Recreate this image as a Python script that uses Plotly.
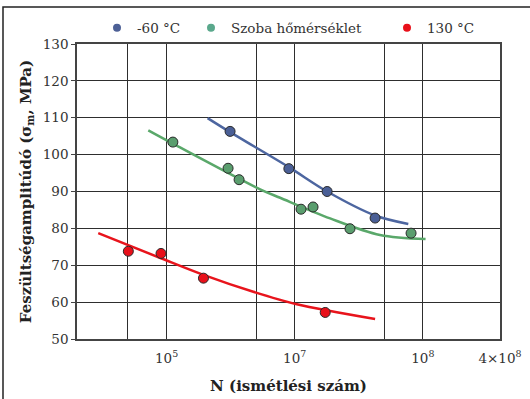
import plotly.graph_objects as go

# ---- data ----
blue_N = [3.13e6, 9.0e6, 1.79e7, 4.24e7]
blue_S = [106.3, 96.2, 90.0, 82.8]
blue_fit_N = [2.09e6, 3.13e6, 9.0e6, 1.79e7, 4.24e7, 7.7e7]
blue_fit_S = [109.9, 106.1, 96.6, 90.0, 83.5, 81.2]

green_N = [1.12e6, 3.02e6, 3.68e6, 1.12e7, 1.39e7, 2.70e7, 8.09e7]
green_S = [103.4, 96.3, 93.2, 85.2, 85.8, 79.9, 78.7]
green_fit_N = [7.2e5, 1.12e6, 5.37e6, 7.69e6, 1.89e7, 4.63e7, 1.05e8]
green_fit_S = [106.6, 103.0, 90.6, 88.3, 82.7, 78.2, 77.1]

red_N = [5.03e5, 9.05e5, 1.94e6, 1.73e7]
red_S = [73.8, 73.2, 66.5, 57.2]
red_fit_N = [2.93e5, 9.05e5, 1.94e6, 4.75e6, 1.04e7, 4.24e7]
red_fit_S = [78.7, 71.9, 67.4, 62.8, 59.4, 55.4]

series_names = ["-60 °C", "Szoba hőmérséklet", "130 °C"]
marker_colors = ["#4a5f96", "#5a9e6e", "#e8101a"]
legend_colors = ["#4d6096", "#5aa88c", "#e8101a"]
line_colors = ["#4d66a0", "#5aa86a", "#e8141c"]

x_tickvals = [1e6, 1e7, 1e8, 4e8]
x_ticktext = ["10<sup>5</sup>", "10<sup>7</sup>", "10<sup>8</sup>", "4×10<sup>8</sup>"]
x_minor_gridvals = [5e5, 5e6, 5e7]

FONT = "DejaVu Serif"

fig = go.Figure()

fits = [(blue_fit_N, blue_fit_S), (green_fit_N, green_fit_S), (red_fit_N, red_fit_S)]
pts = [(blue_N, blue_S), (green_N, green_S), (red_N, red_S)]

for i in range(3):
    fig.add_trace(go.Scatter(
        x=fits[i][0], y=fits[i][1], mode="lines",
        line=dict(color=line_colors[i], width=2.5, shape="spline", smoothing=0.9),
        showlegend=False, hoverinfo="skip"))
for i in range(3):
    fig.add_trace(go.Scatter(
        x=pts[i][0], y=pts[i][1], mode="markers",
        marker=dict(color=marker_colors[i], size=10, line=dict(color="#2a2a2a", width=1)),
        showlegend=False, name=series_names[i]))

legend_keys = ["legend", "legend2", "legend3"]
legend_px = [97, 191, 387]
for i in range(3):
    fig.add_trace(go.Scatter(
        x=[None], y=[None], mode="markers", name=series_names[i],
        marker=dict(color=legend_colors[i], size=8),
        legend=legend_keys[i], showlegend=True))

leg_common = dict(orientation="h", xref="container", yref="container",
                  xanchor="left", yanchor="middle", y=1 - 28 / 399,
                  bgcolor="rgba(0,0,0,0)", borderwidth=0,
                  font=dict(family=FONT, size=13.5, color="#333333"),
                  itemwidth=30, tracegroupgap=0)

GRID = "#2e2e2e"

fig.update_layout(
    width=530, height=399,
    margin=dict(l=77, r=30, t=44, b=60, autoexpand=False),
    paper_bgcolor="white", plot_bgcolor="white",
    font=dict(family=FONT, size=13, color="#333333"),
    legend=dict(**leg_common, x=legend_px[0] / 530),
    legend2=dict(**leg_common, x=legend_px[1] / 530),
    legend3=dict(**leg_common, x=legend_px[2] / 530),
    xaxis=dict(
        type="log", range=[5.30103, 8.60206],
        tickmode="array", tickvals=x_tickvals, ticktext=x_ticktext,
        showgrid=True, gridcolor=GRID, gridwidth=1.3,
        minor=dict(tickmode="array", tickvals=x_minor_gridvals, showgrid=True,
                   gridcolor=GRID, gridwidth=1.3, ticks=""),
        showline=True, linecolor="#444444", linewidth=1.5, mirror=True,
        ticks="", zeroline=False, ticklabelstandoff=6,
        tickfont=dict(family=FONT, size=13.5, color="#333333"),
        title=dict(text="<b>N (ismétlési szám)</b>", standoff=16,
                   font=dict(family=FONT, size=15, color="#222222")),
    ),
    yaxis=dict(
        range=[50, 130], dtick=10, tick0=50,
        showgrid=True, gridcolor=GRID, gridwidth=1.3,
        showline=True, linecolor="#444444", linewidth=1.5, mirror=True,
        ticks="outside", ticklen=4, tickcolor="#444444", zeroline=False,
        tickfont=dict(family=FONT, size=13.5, color="#333333"),
        title=dict(text="<b>Feszültségamplitúdó (σ<sub>m</sub>, MPa)</b>", standoff=8,
                   font=dict(family=FONT, size=15, color="#222222")),
    ),
    shapes=[dict(type="rect", xref="paper", yref="paper",
                 x0=(3 - 77) / 423, x1=(560 - 77) / 423,
                 y0=(339 - 420) / 295, y1=(339 - 7) / 295,
                 line=dict(color="#222222", width=1.5), layer="below")],
)

fig.write_html("out.html",
               config={"displayModeBar": False},
               post_script="document.body.style.margin='0';document.body.style.overflow='hidden';")
